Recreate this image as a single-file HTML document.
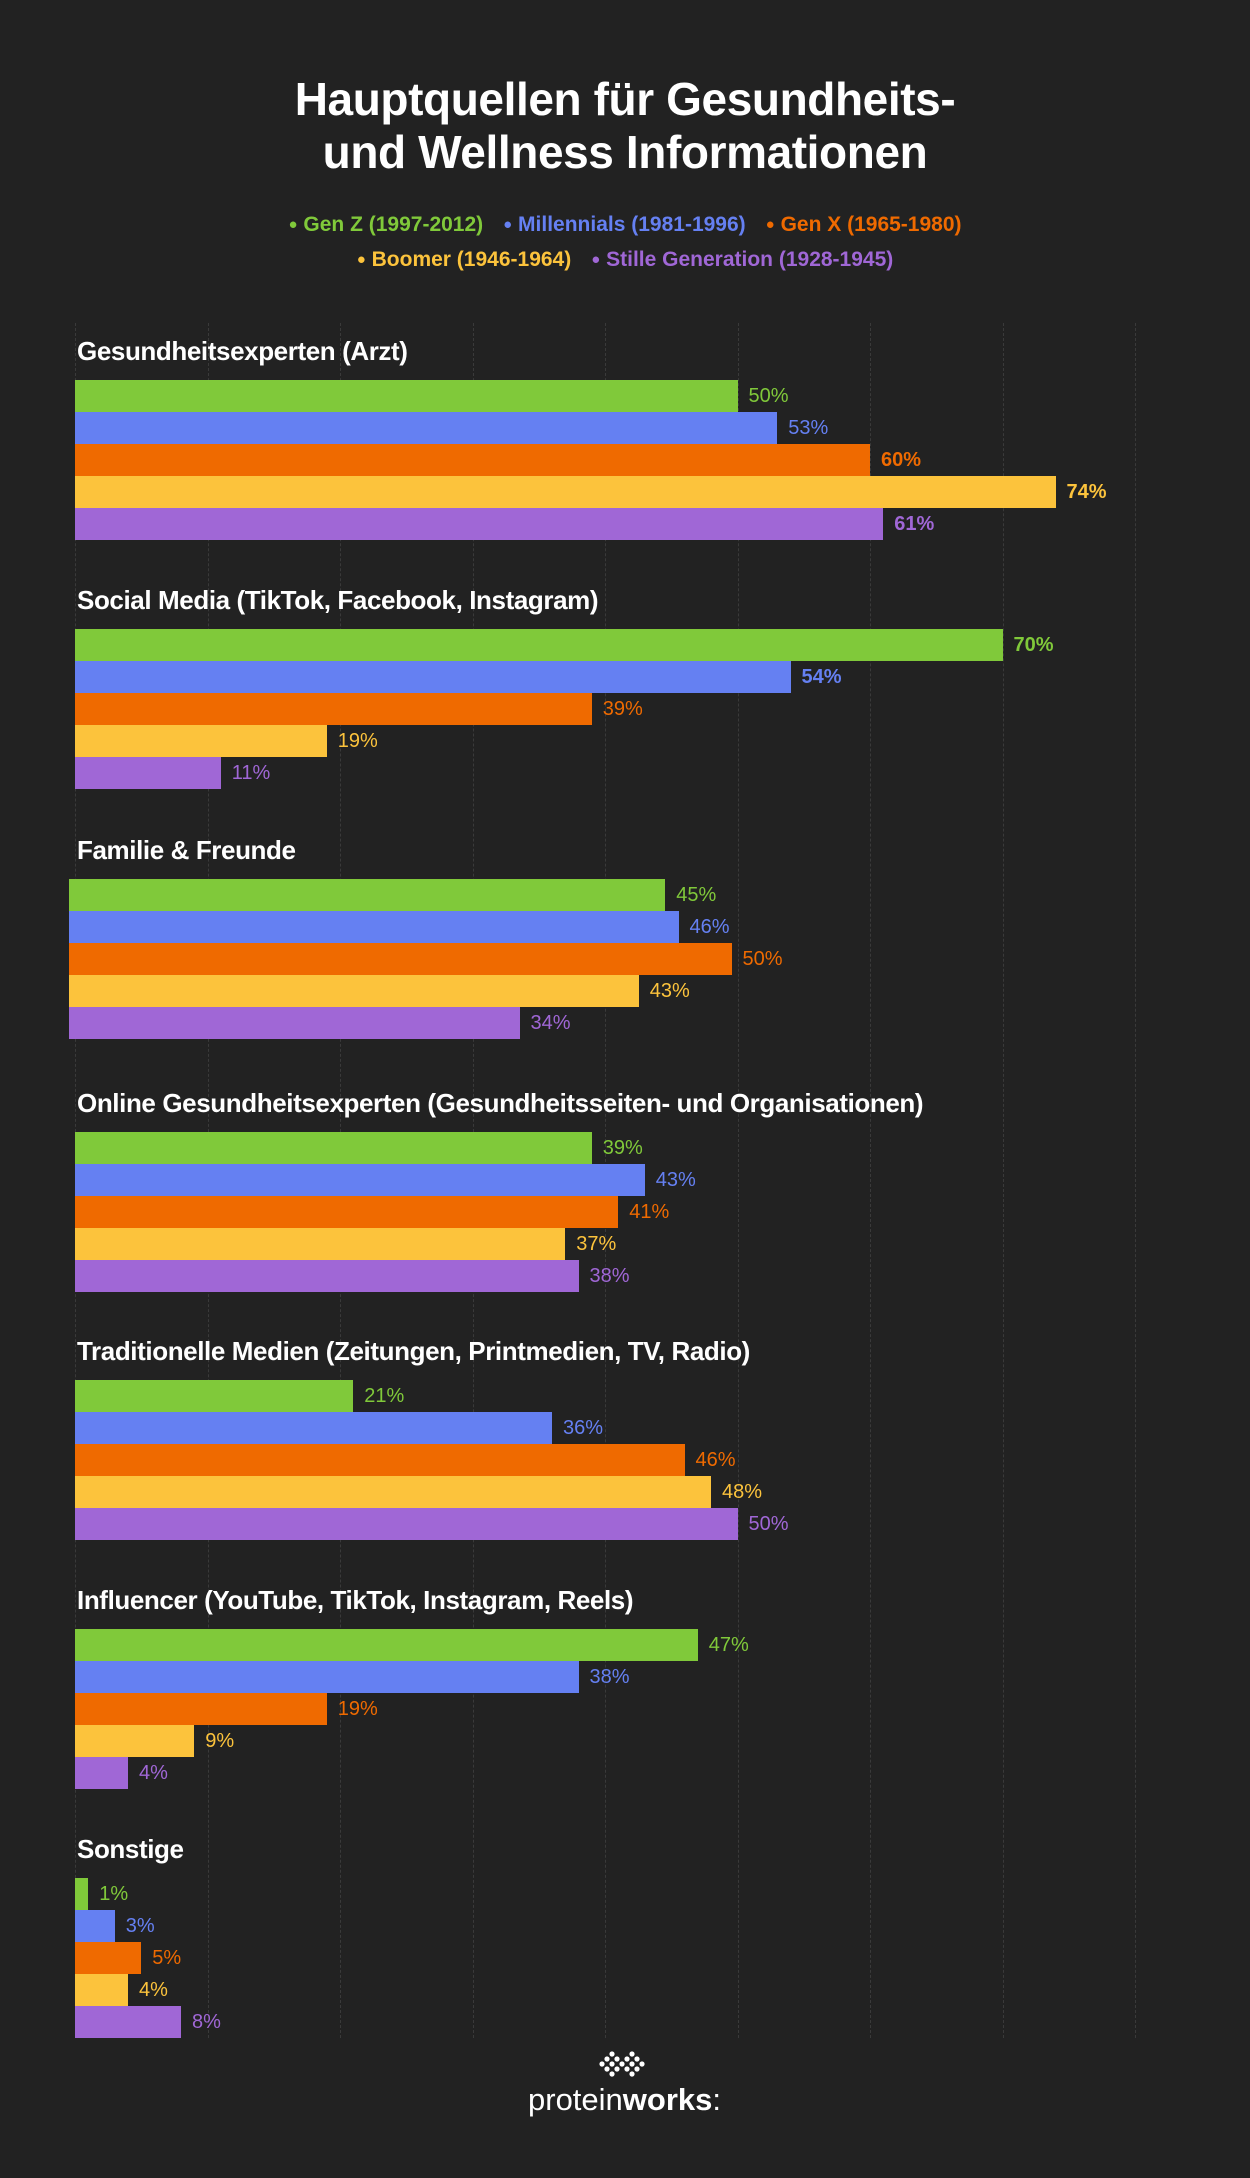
<!DOCTYPE html>
<html><head><meta charset="utf-8"><style>
body{margin:0;background:#222222;}
#c{position:relative;width:1250px;height:2178px;background:#222222;overflow:hidden;font-family:"Liberation Sans",sans-serif;}
.t{position:absolute;left:0;width:1250px;text-align:center;color:#fff;font-weight:bold;font-size:46px;letter-spacing:-0.4px;}
.g{position:absolute;top:323px;height:1715px;width:0;border-left:1px dashed #3a3a3a;}
.h{position:absolute;color:#fff;font-weight:bold;font-size:26px;letter-spacing:-0.4px;white-space:nowrap;}
.b{position:absolute;height:32px;}
.v{position:absolute;font-size:20px;line-height:32px;white-space:nowrap;}
.lg{position:absolute;left:0;width:1250px;text-align:center;font-weight:bold;font-size:21px;white-space:nowrap;}
.lg span{margin:0 10px;}
.lg i{font-style:normal;font-size:15px;vertical-align:2px;}
</style></head><body><div id="c">
<div class="t" style="top:72px;">Hauptquellen für Gesundheits-</div>
<div class="t" style="top:125px;">und Wellness Informationen</div>
<div class="lg" style="top:213px;"><span style="color:#80c93a"><i>●</i> Gen Z (1997-2012)</span><span style="color:#6580f2"><i>●</i> Millennials (1981-1996)</span><span style="color:#ef6a00"><i>●</i> Gen X (1965-1980)</span></div>
<div class="lg" style="top:248px;"><span style="color:#fcc33c"><i>●</i> Boomer (1946-1964)</span><span style="color:#a067d6"><i>●</i> Stille Generation (1928-1945)</span></div>
<svg style="position:absolute;left:0;top:0" width="1250" height="2178">
<g fill="#fff">
<circle cx="612" cy="2054" r="2.6"/><circle cx="632" cy="2054" r="2.6"/>
<circle cx="607" cy="2059" r="2.6"/><circle cx="617" cy="2059" r="2.6"/><circle cx="627" cy="2059" r="2.6"/><circle cx="637" cy="2059" r="2.6"/>
<circle cx="602" cy="2064" r="2.6"/><circle cx="612" cy="2064" r="2.6"/><circle cx="622" cy="2064" r="2.6"/><circle cx="632" cy="2064" r="2.6"/><circle cx="642" cy="2064" r="2.6"/>
<circle cx="607" cy="2069" r="2.6"/><circle cx="617" cy="2069" r="2.6"/><circle cx="627" cy="2069" r="2.6"/><circle cx="637" cy="2069" r="2.6"/>
<circle cx="612" cy="2074" r="2.6"/><circle cx="632" cy="2074" r="2.6"/>
</g>
<text x="528" y="2110" fill="#fff" font-family="Liberation Sans, sans-serif" font-size="31">protein<tspan font-weight="bold">works</tspan>:</text>
</svg>
</div>
<script>
var c=document.getElementById('c');
for(var k=0;k<9;k++){var d=document.createElement('div');d.className='g';d.style.left=(75+132.5*k)+'px';c.appendChild(d);}
var cols=['#80c93a','#6580f2','#ef6a00','#fcc33c','#a067d6'];
var G=[
["Gesundheitsexperten (Arzt)",380,75,[50,53,60,74,61],[0,0,1,1,1]],
["Social Media (TikTok, Facebook, Instagram)",629,75,[70,54,39,19,11],[1,1,0,0,0]],
["Familie & Freunde",879,69,[45,46,50,43,34],[0,0,0,0,0]],
["Online Gesundheitsexperten (Gesundheitsseiten- und Organisationen)",1132,75,[39,43,41,37,38],[0,0,0,0,0]],
["Traditionelle Medien (Zeitungen, Printmedien, TV, Radio)",1380,75,[21,36,46,48,50],[0,0,0,0,0]],
["Influencer (YouTube, TikTok, Instagram, Reels)",1629,75,[47,38,19,9,4],[0,0,0,0,0]],
["Sonstige",1878,75,[1,3,5,4,8],[0,0,0,0,0]]
];
G.forEach(function(g){
 var h=document.createElement('div');h.className='h';h.textContent=g[0];h.style.left='77px';h.style.top=(g[1]-44)+'px';c.appendChild(h);
 for(var i=0;i<5;i++){
  var w=g[3][i]*13.25;var y=g[1]+32*i;
  var b=document.createElement('div');b.className='b';b.style.left=g[2]+'px';b.style.top=y+'px';b.style.width=w+'px';b.style.background=cols[i];c.appendChild(b);
  var v=document.createElement('div');v.className='v';v.style.left=(g[2]+w+11)+'px';v.style.top=y+'px';v.style.color=cols[i];if(g[4][i])v.style.fontWeight='bold';v.textContent=g[3][i]+'%';c.appendChild(v);
 }
});
</script>
</body></html>
